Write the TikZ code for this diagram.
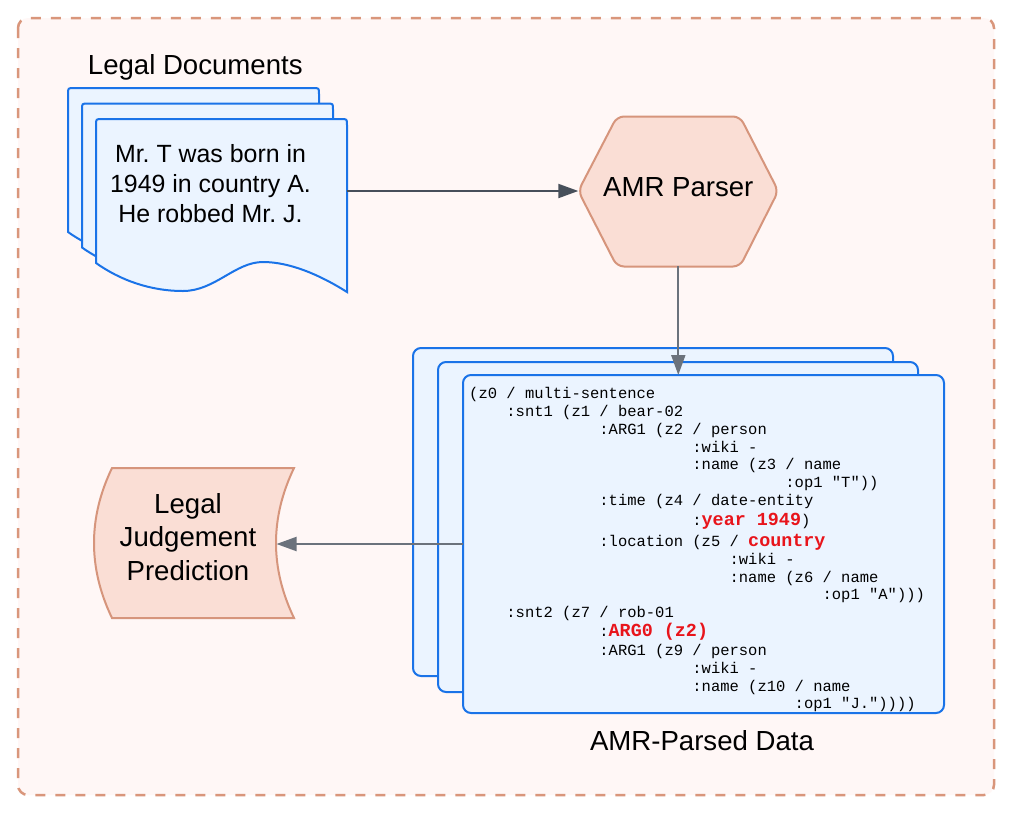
\documentclass[tikz,border=0pt]{standalone}
\usepackage{fontspec}
\setmainfont{Liberation Sans}
\newfontfamily\codefont{Liberation Mono}
\usetikzlibrary{arrows.meta}
\definecolor{bordc}{HTML}{D9967B}
\definecolor{bgc}{HTML}{FFF7F6}
\definecolor{bluec}{HTML}{1A73E8}
\definecolor{bluefill}{HTML}{EBF4FF}
\definecolor{peach}{HTML}{FADED5}
\definecolor{peachline}{HTML}{D6957C}
\definecolor{arrowdark}{HTML}{474F5A}
\definecolor{arrowgray}{HTML}{6B727C}
\definecolor{redc}{HTML}{E8141B}
\newcommand\hlred[1]{{\color{redc}\bfseries\fontsize{18.4}{20}\selectfont #1}}
\frenchspacing
\begin{document}
\begin{tikzpicture}[x=1pt,y=-1pt,
  bluebox/.style={draw=bluec,fill=bluefill,line width=2pt},
  peachbox/.style={draw=peachline,fill=peach,line width=2pt},
  conn/.style={line width=2pt,-{Triangle[length=20pt,width=14pt]}},
  anchorbox/.style={inner sep=0pt,outer sep=0pt},
  labeltext/.style={anchor=base,inner sep=0pt,font=\fontsize{27.6}{30}\selectfont},
  doctext/.style={anchor=base,inner sep=0pt,font=\fontsize{24.9}{30}\selectfont},
  codeline/.style={anchor=base west,inner sep=0pt,font=\codefont\fontsize{15.5}{18}\selectfont},
  docshape/.pic={
    \draw[bluebox] (96,263) -- (96,125) .. controls (96,119) .. (102,119)
      -- (341,119) .. controls (347,119) .. (347,125) -- (347,292)
      .. controls (320,275) and (290,262) .. (263,262)
      .. controls (235,262) and (215,291) .. (183,291)
      .. controls (150,291) and (120,280) .. (96,263) -- cycle;
  }]
\useasboundingbox (0,0) rectangle (1018,820);
\fill[white] (0,0) rectangle (1018,820);
\draw[bordc,fill=bgc,line width=2.5pt,dash pattern=on 10pt off 10pt,rounded corners=10pt] (18,18) rectangle (994,795);

% Legal documents stack
\pic at (-28,-31) {docshape};
\pic at (-14,-15.5) {docshape};
\pic at (0,0) {docshape};
\node[anchorbox,minimum width=251pt,minimum height=173pt] (doc) at (221.5,205.5) {};
\node[labeltext] (doclabel) at (195.3,74.3) {Legal Documents};
\node[doctext] (dt1) at (210.5,162.3) {Mr. T was born in};
\node[doctext] (dt2) at (210.5,192.3) {1949 in country A.};
\node[doctext] (dt3) at (210.5,222.3) {He robbed Mr. J.};

% AMR parser hexagon
\draw[peachbox,rounded corners=7pt] (578.3,191) -- (617,116.5) -- (740,116.5) -- (778.3,191) -- (740,266.5) -- (617,266.5) -- cycle;
\node[anchorbox,minimum width=200pt,minimum height=150pt] (parser) at (678.3,191) {};
\node[labeltext] (parsertext) at (678.3,196.7) {AMR Parser};

% AMR parsed data stack
\draw[bluebox,rounded corners=8pt] (413,348) rectangle (893,676);
\draw[bluebox,rounded corners=8pt] (438,362) rectangle (918,692);
\draw[bluebox,rounded corners=8pt] (463,375) rectangle (944,713);
\node[anchorbox,minimum width=481pt,minimum height=338pt] (amr) at (703.5,544) {};
\node[labeltext] (amrlabel) at (702,750) {AMR-Parsed Data};

\node[codeline] (l1) at ({469+0*9.3},398.8) {(z0 / multi-sentence};
\node[codeline] (l2) at ({469+4*9.3},416.5) {:snt1 (z1 / bear-02};
\node[codeline] (l3) at ({469+14*9.3},434.5) {:ARG1 (z2 / person};
\node[codeline] (l4) at ({469+24*9.3},452.2) {:wiki -};
\node[codeline] (l5) at ({469+24*9.3},469.8) {:name (z3 / name};
\node[codeline] (l6) at ({469+34*9.3},487.8) {:op1 "T"))};
\node[codeline] (l7) at ({469+14*9.3},505.5) {:time (z4 / date-entity};
\node[codeline] (l8) at ({469+24*9.3},525) {:\hlred{year 1949})};
\node[codeline] (l9) at ({469+14*9.3},546) {:location (z5 / \hlred{country}};
\node[codeline] (l10) at ({469+28*9.3},564.5) {:wiki -};
\node[codeline] (l11) at ({469+28*9.3},582.2) {:name (z6 / name};
\node[codeline] (l12) at ({469+38*9.3},599.8) {:op1 "A")))};
\node[codeline] (l13) at ({469+4*9.3},617.2) {:snt2 (z7 / rob-01};
\node[codeline] (l14) at ({469+14*9.3},636.5) {:\hlred{ARG0 (z2)}};
\node[codeline] (l15) at ({469+14*9.3},655.5) {:ARG1 (z9 / person};
\node[codeline] (l16) at ({469+24*9.3},673.8) {:wiki -};
\node[codeline] (l17) at ({469+24*9.3},691.2) {:name (z10 / name};
\node[codeline] (l18) at ({469+35*9.3},708.8) {:op1 "J."))))};

% Legal judgement prediction (stored data shape)
\draw[peachbox] (112,468) -- (294,468) .. controls (270,518) and (270,568) .. (294,618)
  -- (112,618) .. controls (88,568) and (88,518) .. (112,468) -- cycle;
\node[anchorbox,minimum width=200pt,minimum height=150pt] (ljp) at (194,543) {};
\coordinate (ljpin) at (276.5,544);
\node[labeltext] (lj1) at (188,513.3) {Legal};
\node[labeltext] (lj2) at (188,546.7) {Judgement};
\node[labeltext] (lj3) at (188,580) {Prediction};

% connectors
\draw[conn,arrowdark] (parser.west -| doc.east) -- (parser.west);
\draw[conn,arrowgray] (parser.south) -- (parser.south |- amr.north);
\draw[conn,arrowgray] (amr.west) -- (amr.west -| ljpin);
\end{tikzpicture}
\end{document}
